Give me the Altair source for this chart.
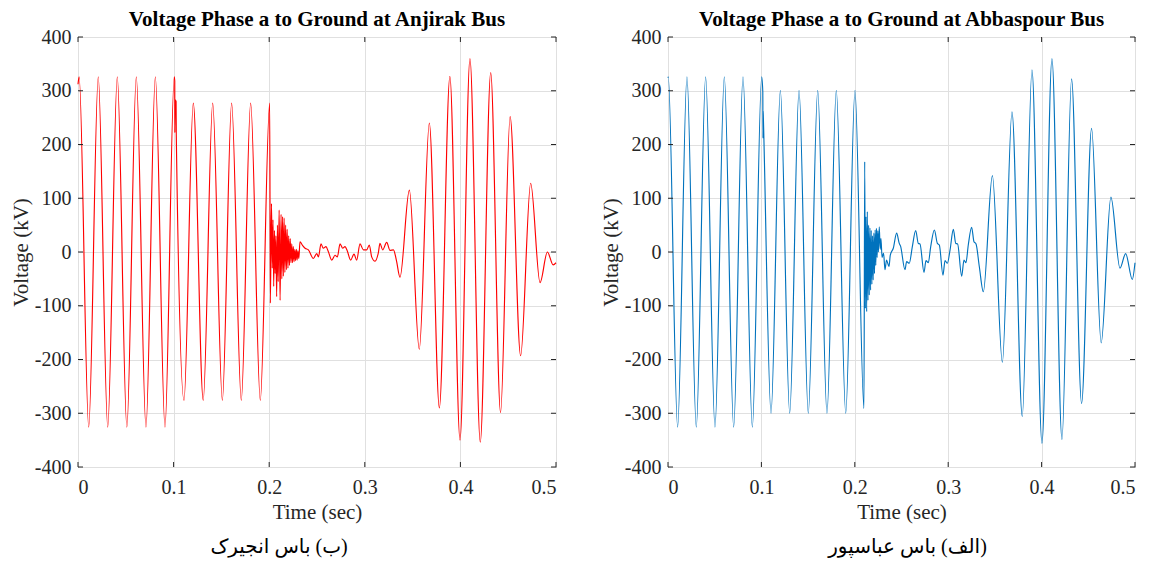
import altair as alt
import pandas as pd

# ---------------- data ----------------
# Anjirak bus (left, red)
anj_t = [0.0000, 0.0012, 0.0112, 0.0212, 0.0311, 0.0411, 0.0511, 0.0610, 0.0711, 0.0809, 0.0910, 0.1007,
         0.1012, 0.1013, 0.1016, 0.1026, 0.1028,
         0.1109, 0.1206, 0.1310, 0.1409, 0.1510, 0.1607, 0.1708, 0.1806, 0.1907, 0.2005,
         0.2012, 0.2024, 0.2032, 0.2040, 0.2047, 0.2055, 0.2062, 0.2070, 0.2078, 0.2086, 0.2094, 0.2104,
         0.2114, 0.2124, 0.2132, 0.2140, 0.2148, 0.2156, 0.2164, 0.2172, 0.2180, 0.2188, 0.2196, 0.2204,
         0.2212, 0.2220, 0.2228, 0.2236, 0.2244, 0.2252, 0.2260, 0.2268, 0.2276, 0.2284, 0.2292, 0.2300,
         0.2310, 0.2322, 0.2350, 0.2375, 0.2410, 0.2462, 0.2497, 0.2515, 0.2542, 0.2566, 0.2594, 0.2618,
         0.2654, 0.2689, 0.2713, 0.2741, 0.2769, 0.2793, 0.2817, 0.2852, 0.2887, 0.2915, 0.2950, 0.2985,
         0.3020, 0.3047, 0.3072, 0.3107, 0.3142, 0.3159, 0.3187, 0.3229, 0.3264, 0.3300, 0.3330, 0.3368,
         0.3466, 0.3570, 0.3675, 0.3780, 0.3890, 0.3996, 0.4100, 0.4208, 0.4317, 0.4420, 0.4520, 0.4630,
         0.4735, 0.4833, 0.4910, 0.4970, 0.5000]
anj_v = [312, 326, -326, 326, -326, 326, -326, 326, -326, 326, -326, 326,
         318, 222, 283, 280, 218,
         -276, 277, -276, 277, -276, 277, -276, 277, -276, 277,
         -95, 90, -30, 60, -64, 40, -40, 30, -83, 50, -55, 78,
         -90, 70, -50, 66, -45, 63, -38, 50, -33, 42, -30, 30,
         -25, 25, -20, 15, -20, 10, -18, 5, -16, 5, -15, 2,
         -12, 19, 12, 7, 4, -12, -3, -9, 15, 7, 10, 1,
         -15, -6, -9, 15, 7, 10, 2, -15, -4, -15, 15, 4,
         4, 13, -9, -17, -1, 16, 4, 18, 3, 4, -15, -47,
         115, -181, 240, -290, 327, -350, 360, -354, 334, -299, 252, -193,
         128, -57, 0, -24, -20]

# Abbaspour bus (right, blue)
abb_t = [0.0000, 0.0003, 0.0103, 0.0203, 0.0303, 0.0403, 0.0503, 0.0603, 0.0703, 0.0803, 0.0903, 0.1003,
         0.1015, 0.1017, 0.1019, 0.1021,
         0.1103, 0.1203, 0.1303, 0.1403, 0.1502, 0.1603, 0.1702, 0.1802, 0.1903, 0.2002, 0.2098,
         0.2106, 0.2113, 0.2120, 0.2127, 0.2134, 0.2141, 0.2148, 0.2155, 0.2162, 0.2169, 0.2176, 0.2183,
         0.2190, 0.2197, 0.2204, 0.2211, 0.2218, 0.2225, 0.2232, 0.2239, 0.2246, 0.2253, 0.2262, 0.2272,
         0.2280, 0.2292, 0.2308, 0.2323, 0.2340, 0.2366, 0.2380, 0.2412, 0.2448, 0.2476, 0.2490, 0.2537,
         0.2555, 0.2583, 0.2616, 0.2652, 0.2680, 0.2698, 0.2741, 0.2762, 0.2787, 0.2812, 0.2852, 0.2884,
         0.2905, 0.2944, 0.2966, 0.2991, 0.3020, 0.3055, 0.3081, 0.3101, 0.3144, 0.3169, 0.3190, 0.3215,
         0.3251, 0.3276, 0.3298, 0.3333, 0.3376, 0.3473, 0.3580, 0.3683, 0.3793, 0.3897, 0.4004, 0.4111,
         0.4218, 0.4321, 0.4428, 0.4535, 0.4638, 0.4742, 0.4839, 0.4900, 0.4971, 0.5000]
abb_v = [324, 326, -326, 326, -326, 326, -326, 326, -326, 326, -326, 326,
         298, 212, 262, 250,
         -300, 301, -300, 301, -300, 301, -300, 301, -300, 301, -291,
         168, -105, 66, -111, 75, -90, 50, -80, 45, -71, 40, -60,
         30, -52, 35, -40, 41, -25, 44, -10, 40, 0, 47, 5,
         25, -10, -2, -33, -15, -27, -6, 7, 35, 16, 11, -33,
         -18, -21, 10, 40, 16, 15, -38, -16, -20, 9, 41, 16,
         13, -43, -16, -21, 4, 42, 16, 15, -45, -15, -20, 13,
         46, 19, 15, -27, -74, 142, -205, 261, -306, 339, -356, 360,
         -349, 322, -282, 230, -169, 102, -30, -3, -51, -20]

x_ticks = [0, 0.1, 0.2, 0.3, 0.4, 0.5]
y_ticks = [-400, -300, -200, -100, 0, 100, 200, 300, 400]

titles = ["Voltage Phase a to Ground at Anjirak Bus", "Voltage Phase a to Ground at Abbaspour Bus"]
captions = ["\u200f(ب) باس انجیرک", "\u200f(الف) باس عباسپور"]
colors = ["#ff0000", "#0072bd"]

SERIF = "Liberation Serif"
AXC = "#262626"


def panel(t, v, color, title, caption, w, h, cap_dx):
    df = pd.DataFrame({"t": t, "v": v})
    xs = alt.Scale(domain=[0, 0.5], nice=False, zero=False)
    ys = alt.Scale(domain=[-400, 400], nice=False, zero=False)
    ax_x = alt.Axis(values=x_ticks, title="Time (sec)", labelExpr="'' + datum.value")
    ax_y = alt.Axis(values=y_ticks, title="Voltage (kV)", labelExpr="'' + datum.value")
    line = alt.Chart(df).mark_line(color=color, strokeWidth=1.15, interpolate="monotone").encode(
        x=alt.X("t:Q", scale=xs, axis=ax_x),
        y=alt.Y("v:Q", scale=ys, axis=ax_y),
    )
    xt = pd.DataFrame({"t": x_ticks})
    yt = pd.DataFrame({"v": y_ticks})
    tb = alt.Chart(xt).mark_rule(color=AXC, strokeWidth=1).encode(
        x=alt.X("t:Q", scale=xs, axis=ax_x), y=alt.value(h), y2=alt.value(h - 5))
    tt = alt.Chart(xt).mark_rule(color=AXC, strokeWidth=1).encode(
        x=alt.X("t:Q", scale=xs, axis=ax_x), y=alt.value(0), y2=alt.value(5))
    tl = alt.Chart(yt).mark_rule(color=AXC, strokeWidth=1).encode(
        y=alt.Y("v:Q", scale=ys, axis=ax_y), x=alt.value(0), x2=alt.value(5))
    tr = alt.Chart(yt).mark_rule(color=AXC, strokeWidth=1).encode(
        y=alt.Y("v:Q", scale=ys, axis=ax_y), x=alt.value(w), x2=alt.value(w - 5))
    cap = alt.Chart(pd.DataFrame({"c": [caption]})).mark_text(
        font=SERIF + ", DejaVu Sans", fontSize=20, color="black", align="center", baseline="middle"
    ).encode(text="c:N", x=alt.value(w / 2 + cap_dx), y=alt.value(h + 80))
    return alt.layer(line, tb, tt, tl, tr, cap).properties(
        width=w, height=h,
        title=alt.TitleParams(text=title, font=SERIF, fontSize=21, fontWeight="bold",
                              color="black", offset=-3, anchor="middle"),
    )


left = panel(anj_t, anj_v, colors[0], titles[0], captions[0], 478, 430, -38)
right = panel(abb_t, abb_v, colors[1], titles[1], captions[1], 467, 430, 6)

chart = alt.hconcat(left, right, spacing=40).properties(
    padding={"left": 1, "top": 0, "right": 0, "bottom": 0}
).configure_view(stroke=AXC, strokeWidth=1).configure_axis(
    domain=False, ticks=False, grid=True, gridColor="#e0e0e0", gridWidth=1,
    labelFont=SERIF, labelFontSize=20, labelColor=AXC,
    titleFont=SERIF, titleFontSize=21, titleColor=AXC, titleFontWeight="normal",
).configure_axisX(labelPadding=10, titlePadding=4).configure_axisY(labelPadding=7, titlePadding=3)

chart.save("out.html", embed_options={"renderer": "svg", "actions": False})
